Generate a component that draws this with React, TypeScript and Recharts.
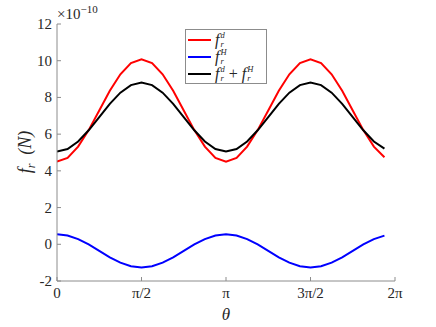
import React from 'react';
import { LineChart, Line, XAxis, YAxis } from 'recharts';

const theta = [
  0, 0.1963, 0.3927, 0.589, 0.7854, 0.9817, 1.1781, 1.3744, 1.5708, 1.7671, 1.9635, 2.1598,
  2.3562, 2.5525, 2.7489, 2.9452, 3.1416, 3.3379, 3.5343, 3.7306, 3.927, 4.1233, 4.3197, 4.516,
  4.7124, 4.9087, 5.1051, 5.3014, 5.4978, 5.6941, 5.8905, 6.0868,
];
const frD = [
  4.5, 4.71, 5.32, 6.22, 7.29, 8.36, 9.26, 9.87, 10.08, 9.87, 9.26, 8.36, 7.29, 6.22, 5.32, 4.71,
  4.5, 4.71, 5.32, 6.22, 7.29, 8.36, 9.26, 9.87, 10.08, 9.87, 9.26, 8.36, 7.29, 6.22, 5.32, 4.74,
];
const frH = [
  0.55, 0.48, 0.28, -0.01, -0.36, -0.71, -1.0, -1.2, -1.27, -1.2, -1.0, -0.71, -0.36, -0.01, 0.28, 0.48,
  0.55, 0.48, 0.28, -0.01, -0.36, -0.71, -1.0, -1.2, -1.27, -1.2, -1.0, -0.71, -0.36, -0.01, 0.28, 0.47,
];
const frSum = [
  5.05, 5.19, 5.6, 6.21, 6.93, 7.65, 8.26, 8.67, 8.81, 8.67, 8.26, 7.65, 6.93, 6.21, 5.6, 5.19,
  5.05, 5.19, 5.6, 6.21, 6.93, 7.65, 8.26, 8.67, 8.81, 8.67, 8.26, 7.65, 6.93, 6.21, 5.6, 5.21,
];
const xTicks = [0, Math.PI / 2, Math.PI, (3 * Math.PI) / 2, 2 * Math.PI];
const xTickLabels = ['0', 'π/2', 'π', '3π/2', '2π'];
const yTicks = [-2, 0, 2, 4, 6, 8, 10, 12];

const data = theta.map((t, i) => ({ t, d: frD[i], h: frH[i], s: frSum[i] }));

const FONT = "'Liberation Serif', 'DejaVu Serif', serif";
const TXT = '#262626';
const AX = '#8c8c8c';
const FS = 15;
const TL = 4;

const BottomTick = (p: any) => {
  const idx = xTicks.findIndex((v) => Math.abs(v - p.payload.value) < 1e-6);
  return (
    <g>
      <line x1={p.x} x2={p.x} y1={p.y} y2={p.y - TL} stroke={AX} />
      <text x={p.x} y={p.y + 17} textAnchor="middle" style={{ fontFamily: FONT, fontSize: FS }} fill={TXT}>
        {xTickLabels[idx]}
      </text>
    </g>
  );
};
const TopTick = (p: any) => (
  <line x1={p.x} x2={p.x} y1={p.y} y2={p.y + TL} stroke={AX} />
);
const LeftTick = (p: any) => (
  <g>
    <line x1={p.x} x2={p.x + TL} y1={p.y} y2={p.y} stroke={AX} />
    <text x={p.x - 5} y={p.y + 5} textAnchor="end" style={{ fontFamily: FONT, fontSize: FS }} fill={TXT}>
      {p.payload.value}
    </text>
  </g>
);
const RightTick = (p: any) => (
  <line x1={p.x} x2={p.x - TL} y1={p.y} y2={p.y} stroke={AX} />
);

const Stack = ({ sup, sub }: { sup: string; sub: string }) => (
  <span
    style={{
      display: 'inline-flex',
      flexDirection: 'column',
      verticalAlign: 'middle',
      marginLeft: 1,
      fontStyle: 'italic',
    }}
  >
    <span style={{ fontSize: 8.5, lineHeight: '8.5px', height: 8.5 }}>{sup}</span>
    <span style={{ fontSize: 8.5, lineHeight: '8.5px', height: 8.5 }}>{sub}</span>
  </span>
);

const legendRows = [
  { color: '#ff0000', label: <><i>f</i><Stack sup="d" sub="r" /></> },
  { color: '#0000ff', label: <><i>f</i><Stack sup="H" sub="r" /></> },
  {
    color: '#000000',
    label: (
      <>
        <i>f</i>
        <Stack sup="d" sub="r" />
        <span style={{ margin: '0 4px' }}>+</span>
        <i>f</i>
        <Stack sup="H" sub="r" />
      </>
    ),
  },
];

const LegendBox = () => (
  <div
    style={{
      position: 'absolute',
      left: 185,
      top: 29,
      width: 82,
      height: 55,
      boxSizing: 'border-box',
      border: `1px solid ${AX}`,
      background: '#fff',
      fontFamily: FONT,
      fontSize: 16,
      color: TXT,
      paddingTop: 1,
    }}
  >
    {legendRows.map((r, i) => (
      <div key={i} style={{ display: 'flex', alignItems: 'center', height: 17, whiteSpace: 'nowrap', lineHeight: '17px' }}>
        <span
          style={{ display: 'inline-block', width: 23, height: 2, background: r.color, marginLeft: 2, marginRight: 4 }}
        />
        <span style={{ display: 'inline-flex', alignItems: 'center' }}>{r.label}</span>
      </div>
    ))}
  </div>
);

export default function App() {
  return (
    <div style={{ position: 'absolute', left: 0, top: 0, width: 436, height: 327, background: '#fff' }}>
      <LineChart width={436} height={327} data={data} margin={{ top: 24, right: 41, bottom: 0, left: 0 }}>
        <XAxis
          xAxisId="b"
          dataKey="t"
          type="number"
          domain={[0, 2 * Math.PI]}
          ticks={xTicks}
          interval={0}
          height={46}
          tickSize={0}
          tickMargin={0}
          tickLine={false}
          tick={BottomTick}
          axisLine={{ stroke: AX }}
          allowDataOverflow
        />
        <XAxis
          xAxisId="top"
          orientation="top"
          dataKey="t"
          type="number"
          domain={[0, 2 * Math.PI]}
          ticks={xTicks}
          interval={0}
          height={0}
          tickSize={0}
          tickMargin={0}
          tickLine={false}
          tick={TopTick}
          axisLine={{ stroke: AX }}
          allowDataOverflow
        />
        <YAxis
          yAxisId="l"
          type="number"
          domain={[-2, 12]}
          ticks={yTicks}
          interval={0}
          width={57}
          tickSize={0}
          tickMargin={0}
          tickLine={false}
          tick={LeftTick}
          axisLine={{ stroke: AX }}
          allowDataOverflow
        />
        <YAxis
          yAxisId="r"
          orientation="right"
          type="number"
          domain={[-2, 12]}
          ticks={yTicks}
          interval={0}
          width={0}
          tickSize={0}
          tickMargin={0}
          tickLine={false}
          tick={RightTick}
          axisLine={{ stroke: AX }}
          allowDataOverflow
        />
        <Line xAxisId="b" yAxisId="l" dataKey="d" stroke="#ff0000" strokeWidth={2} dot={false} isAnimationActive={false} />
        <Line xAxisId="b" yAxisId="l" dataKey="h" stroke="#0000ff" strokeWidth={2} dot={false} isAnimationActive={false} />
        <Line xAxisId="b" yAxisId="l" dataKey="s" stroke="#000000" strokeWidth={2} dot={false} isAnimationActive={false} />
      </LineChart>
      <LegendBox />
      <svg
        width={436}
        height={327}
        style={{ position: 'absolute', left: 0, top: 0, pointerEvents: 'none' }}
      >
        <text x={57} y={19} style={{ fontFamily: FONT, fontSize: FS }} fill={TXT}>
          ×10
          <tspan dy={-6} style={{ fontSize: 11 }}>−10</tspan>
        </text>
        <text
          transform="translate(31,152) rotate(-90)"
          textAnchor="middle"
          style={{ fontFamily: FONT, fontSize: 18, fontStyle: 'italic' }}
          fill={TXT}
        >
          f
          <tspan dy={4} style={{ fontSize: 12 }}>r</tspan>
          <tspan dy={-4}>{'\u00a0\u00a0(N)'}</tspan>
        </text>
        <text
          x={226}
          y={320}
          textAnchor="middle"
          style={{ fontFamily: FONT, fontSize: 17, fontStyle: 'italic' }}
          fill={TXT}
        >
          θ
        </text>
      </svg>
    </div>
  );
}
